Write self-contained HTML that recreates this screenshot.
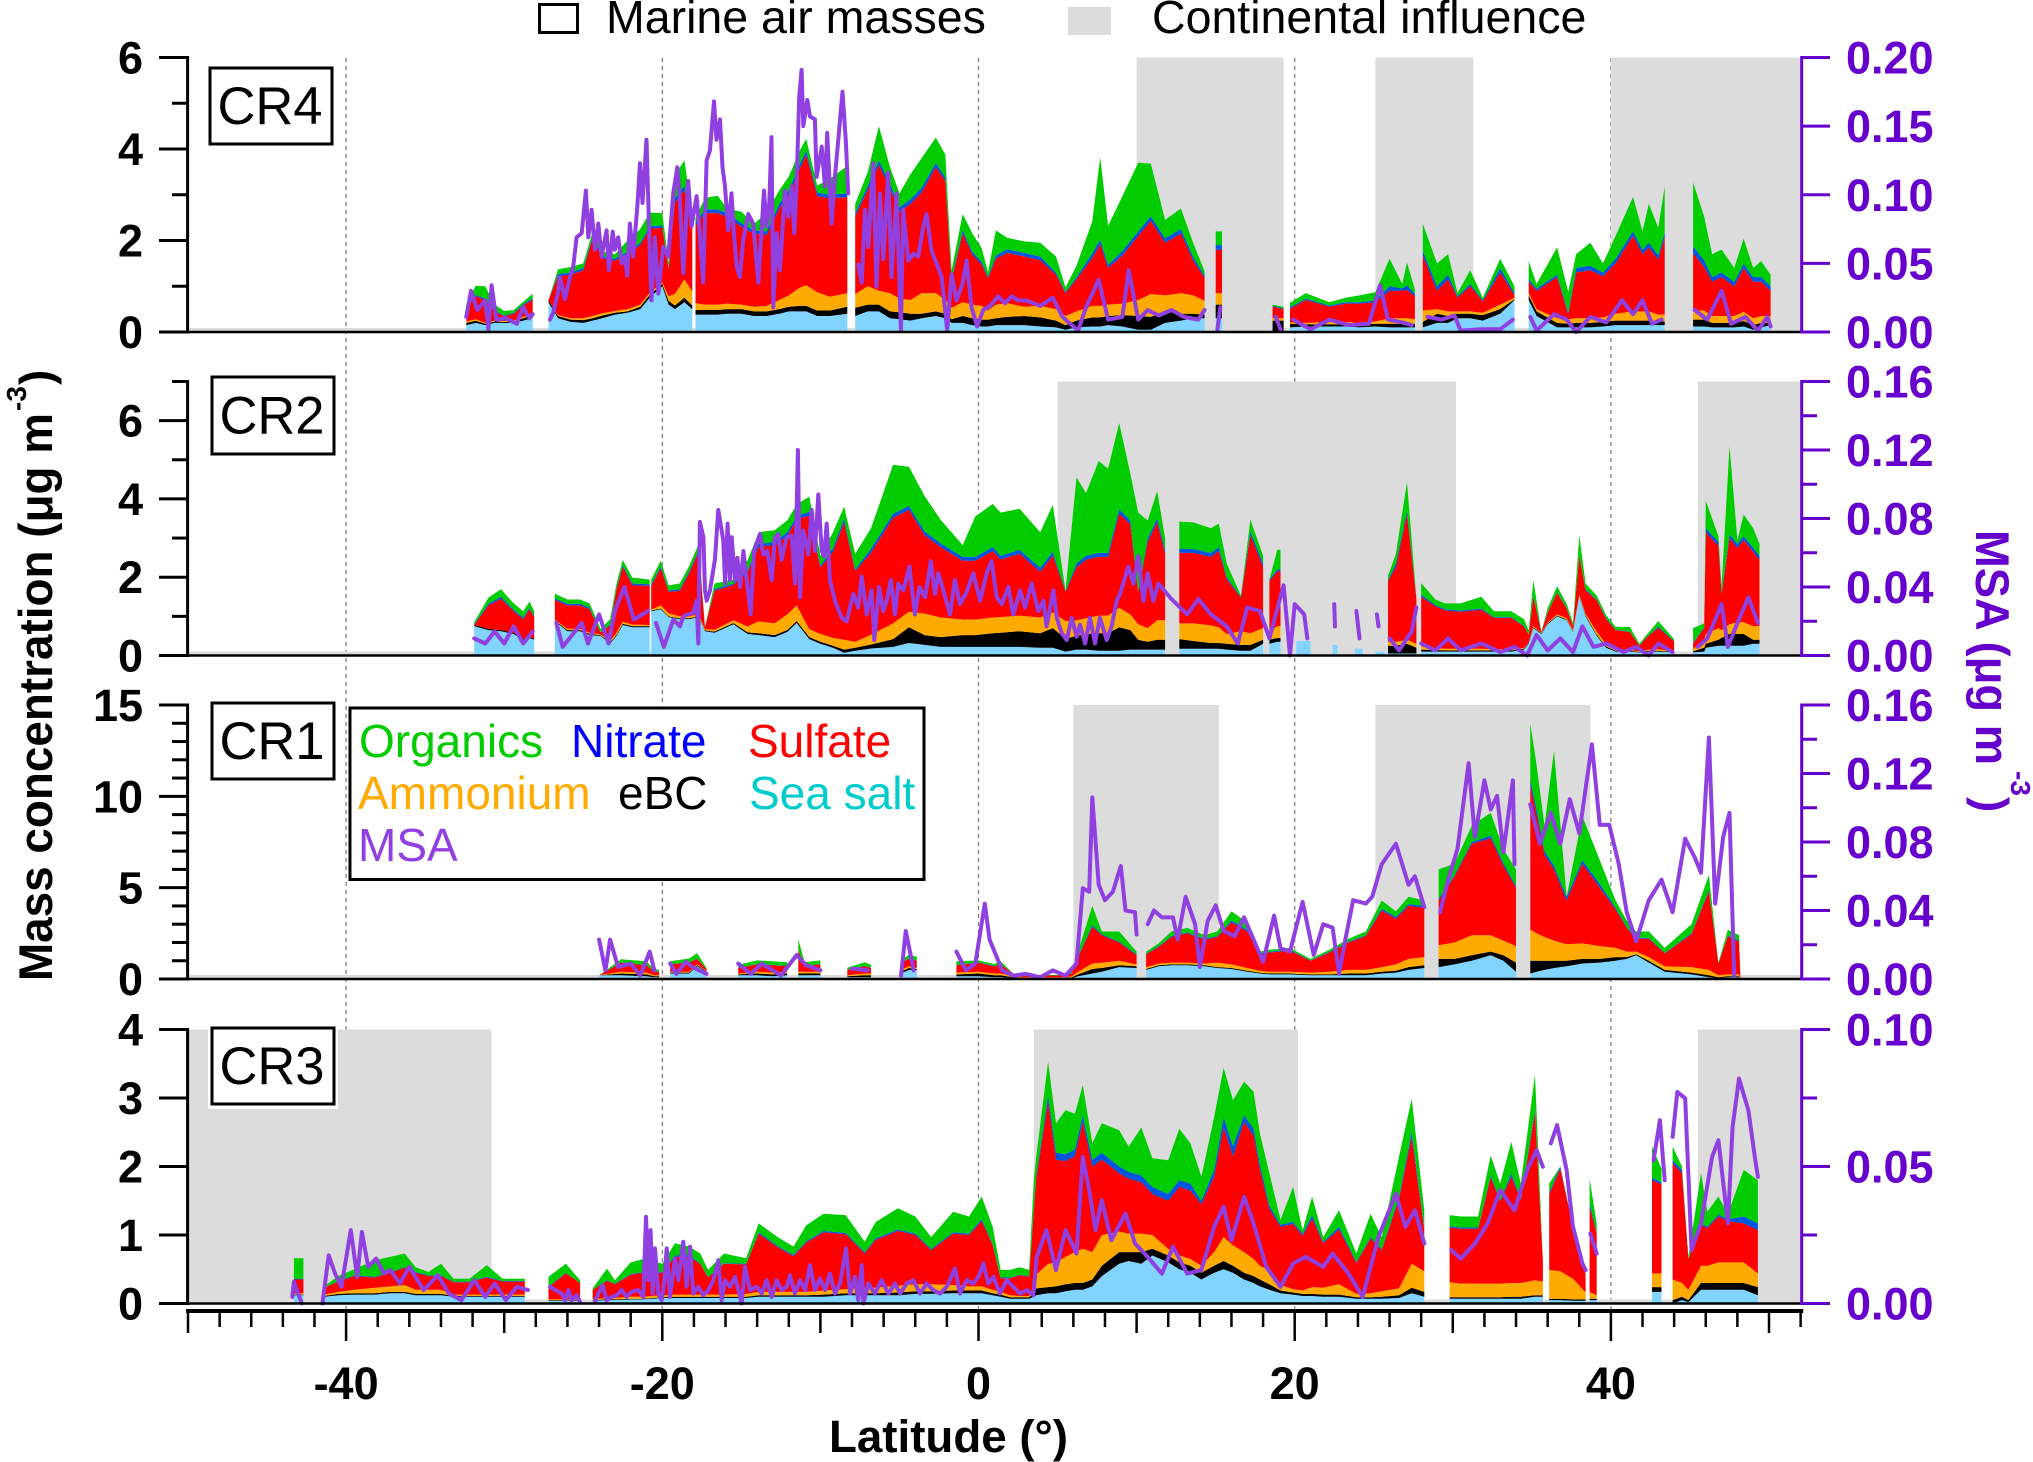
<!DOCTYPE html>
<html lang="en">
<head>
<meta charset="utf-8">
<title>Mass concentration by latitude</title>
<style>
html,body{margin:0;padding:0;background:#fff;width:2033px;height:1462px;overflow:hidden}
svg{display:block;font-family:"Liberation Sans",Arial,sans-serif}
</style>
</head>
<body>
<svg id="chart" width="2033" height="1462" viewBox="0 0 2033 1462" xmlns="http://www.w3.org/2000/svg">
<rect width="2033" height="1462" fill="#fff"/>
<g id="layer"></g>
<g>
<rect x="539.5" y="4.5" width="38" height="28" fill="#fff" stroke="#000" stroke-width="3"/>
<text x="606" y="33" font-size="46.500">Marine air masses</text>
<rect x="1068" y="7" width="43" height="28" fill="#dcdcdc"/>
<text x="1152" y="33" font-size="46.500">Continental influence</text>
</g>
<g font-size="46">
<rect x="350" y="708" width="574" height="171.500" fill="#fff" stroke="#000" stroke-width="3"/>
<text x="359" y="757" fill="#00cc00">Organics</text>
<text x="571" y="757" fill="#0000ff">Nitrate</text>
<text x="748" y="757" fill="#ff0000">Sulfate</text>
<text x="358" y="809" fill="#ffaa00">Ammonium</text>
<text x="618" y="809" fill="#000000">eBC</text>
<text x="749" y="809" fill="#00cccc">Sea salt</text>
<text x="358" y="861" fill="#9040e0">MSA</text>
</g>
<g font-weight="bold">
<text transform="translate(52,981) rotate(-90)" font-size="47" textLength="568" lengthAdjust="spacingAndGlyphs">Mass concentration (μg m</text>
<text transform="translate(26,411) rotate(-90)" font-size="28">-3</text>
<text transform="translate(52,385) rotate(-90)" font-size="46">)</text>
<text transform="translate(1976,530) rotate(90)" font-size="47" fill="#6600cc" textLength="235" lengthAdjust="spacingAndGlyphs">MSA (μg m</text>
<text transform="translate(2011,771) rotate(90)" font-size="28" fill="#6600cc">-3</text>
<text transform="translate(1976,797) rotate(90)" font-size="46" fill="#6600cc">)</text>
<text x="948.500" y="1452" text-anchor="middle" font-size="45.700">Latitude (°)</text>
</g>
</svg>
<script>
/* ---------- x axis values ---------- */
var xMajorTicks = [-40,-20,0,20,40];
var xMidTicks = [-50,-30,-10,10,30,50];
var xMinorTicks = [-48,-46,-44,-42,-38,-36,-34,-32,-28,-26,-24,-22,-18,-16,-14,-12,-8,-6,-4,-2,2,4,6,8,12,14,16,18,22,24,26,28,32,34,36,38,42,44,46,48,52];

/* ---------- CR4 ---------- */
var cr4Continental = [[10,19.3],[25.1,31.3],[40,52]];
var cr4Lat = [-32.4,-31.8,-31.2,-30.6,-30,-29.4,-28.8,-28.2,null,
-27.2,-26.6,-25.8,-25,-24.4,-23.8,-23,-22.2,-21.4,-20.8,-20,-19.6,-19.2,-18.6,-18.1,null,
-17.9,-17.3,-16.5,-15.9,-15,-14.2,-13.4,-12.6,-12,-11.3,-10.9,-10.2,-9.4,-8.3,null,
-7.8,-7,-6.3,-5.6,-5,-4.3,-3.6,-2.7,-2.1,-1.7,-1,-.4,.2,.6,1.1,1.8,2.9,3.9,4.9,5.5,6.2,7.2,7.7,8.2,9.1,10.1,10.9,11.8,12.8,13.6,14.3,null,
15,15.4,null,
18.6,19.3,null,
19.7,20.7,22.2,23.2,24.1,25.1,26,26.8,27.1,27.6,null,
28.1,29,29.7,30.3,31.1,31.9,33,33.9,null,
34.8,35.3,36.6,37.3,37.8,38.7,39.5,40.3,41.4,42,42.4,43,43.4,null,
45.2,45.9,46.4,47,47.8,48.4,49,49.5,50.1];
var cr4SeaSalt = [.15,.2,.15,.2,.2,.2,.25,.3,null,
.65,.3,.22,.2,.25,.3,.38,.42,.5,.75,1,.6,.5,.65,.5,null,
.38,.38,.38,.4,.4,.35,.35,.4,.45,.45,.45,.35,.35,.4,null,
.35,.45,.45,.3,.28,.25,.3,.35,.3,.2,.2,.15,.12,.12,.15,.15,.15,.12,.1,.05,.1,.12,.12,.15,.12,.05,.05,.2,.25,.3,.3,null,
.3,.3,null,
0,0,null,
.1,.12,.12,.12,.1,.12,.1,.1,.1,.1,null,
.1,.2,.2,.3,.3,.25,.4,.7,null,
.7,.35,.1,.1,.1,.1,.12,.15,.15,.15,.15,.15,.15,null,
.12,.12,.1,.1,.1,.12,.05,.1,.15];
var cr4Ebc = [.05,.05,.03,.03,.02,.03,.05,.08,null,
.05,.05,.05,.06,.05,.06,.04,.03,.05,.06,.05,.08,.08,.1,.08,null,
.1,.1,.1,.1,.1,.1,.1,.1,.1,.12,.12,.12,.12,.15,null,
.18,.15,.15,.15,.15,.15,.1,.1,.1,.08,.15,.15,.15,.15,.15,.18,.2,.2,.15,.1,.15,.2,.2,.2,.25,.3,.28,.25,.15,.1,.08,null,
.3,.3,null,
.25,.25,null,
.08,.05,.05,.05,.05,.06,.08,.08,.08,.08,null,
.12,.2,.15,.1,.1,.12,.1,.02,null,
.1,.1,.1,.08,.1,.1,.1,.1,.1,.1,.1,.08,.08,null,
.15,.15,.1,.1,.1,.12,.1,.1,.05];
var cr4Ammonium = [.03,.03,.02,.02,.02,.02,.03,.03,null,
0,.02,.03,.04,.05,.05,.04,.05,.05,.05,.03,.1,.25,.4,.3,null,
.15,.12,.12,.12,.1,.1,.12,.2,.25,.4,.45,.4,.3,.3,null,
.3,.4,.3,.4,.3,.3,.45,.4,.3,.25,.3,.3,.3,.2,.3,.3,.2,.25,.25,.2,.2,.25,.25,.25,.25,.35,.5,.35,.45,.4,.3,null,
.25,.25,null,
.05,.05,null,
.03,.03,.05,.05,.05,.05,.12,.12,.12,.1,null,
.25,.1,.1,.05,.05,.05,.1,.03,null,
.05,.05,.1,.1,.1,.1,.1,.15,.2,.2,.2,.15,.15,null,
.2,.2,.15,.15,.15,.2,.15,.15,.15];
var cr4Sulfate = [.3,.5,.5,.2,.1,.15,.25,.3,null,
0,.85,.95,1.05,1.7,1.2,1.1,1.2,1.3,1.4,1.2,.6,2,1.95,1.4,null,
1.7,2,2,1.9,1.7,1.6,1.55,2,2.2,2.6,2.85,2.1,2.15,2.1,null,
1.7,2.1,2.75,2.3,1.9,2.1,2.2,2.75,2.6,.6,1.5,1.1,.9,.7,1,1.1,1.1,1,.75,.5,.7,1.05,1.35,.8,1.05,1.4,1.6,1.15,1.3,.75,.5,null,
.95,.95,null,
.25,.2,null,
.3,.5,.33,.4,.42,.42,.6,.6,.62,.5,null,
1.2,.4,.7,.3,.55,.25,.7,.05,null,
.25,.4,.9,.1,1,1.05,.9,1.1,1.65,1.25,1.4,1.2,1.7,null,
1.25,.95,.75,.85,.65,.95,.8,.75,.55];
var cr4Nitrate = [.02,.03,.03,.02,.02,.02,.03,.03,null,
0,.05,.05,.05,.05,.05,.04,.05,.05,.05,.05,.03,.1,.1,.08,null,
.07,.08,.08,.08,.08,.07,.08,.1,.1,.1,.1,.08,.08,.08,null,
.07,.1,.1,.1,.1,.1,.1,.1,.08,.05,.08,.06,.06,.04,.07,.08,.08,.08,.05,.03,.05,.1,.1,.07,.1,.1,.1,.1,.1,.08,.05,null,
.1,.1,null,
.02,.02,null,
.03,.03,.03,.03,.03,.04,.1,.05,.1,.05,null,
.1,.1,.1,.03,.05,.03,.1,.05,null,
.05,.05,.05,.05,.1,.1,.08,.1,.1,.1,.1,.1,.1,null,
.15,.15,.1,.1,.1,.1,.1,.1,.1];
var cr4Organics = [.05,.2,.27,.13,.1,.06,.05,.1,null,
0,.1,.12,.1,.1,.1,.1,.25,.3,.3,.27,.1,.5,.55,.2,null,
.1,.25,.3,.1,.25,.15,.4,.3,.3,.3,.25,.15,.35,.6,null,
.2,.3,.75,.35,.3,.55,.65,.55,.5,.17,.35,.4,.3,.1,.55,.25,.25,.3,.35,.1,.25,.7,1.8,.85,1.2,1.5,1.15,.4,.45,.3,.1,null,
.3,.3,null,
.03,.03,null,
.1,.12,.07,.1,.15,.18,.6,.1,.5,.1,null,
.6,.5,.45,.07,.3,.05,.2,.15,null,
.4,.1,.6,.45,.3,.5,.2,.5,.75,.4,.85,.6,1,null,
1.4,.95,.5,.5,.3,.55,.2,.35,.25];
var cr4MsaLat = [-32.4,-32.1,-31.7,-31.2,-31,-30.8,-30.5,-29.9,-29.2,-28.8,-28.4,-28.2,null,
-27.11,-26.9,-26.58,-26.47,-26.16,-25.84,-25.63,-25.42,-25.1,-24.83,-24.68,-24.47,-24.26,-24.05,-23.84,-23.52,-23.38,-23.14,-23,-22.79,-22.57,-22.36,-22.22,-22.05,-21.84,-21.58,-21.41,-21.25,-21,-20.78,-20.68,-20.47,-20.25,-19.94,-19.62,-19.31,-19.05,-18.89,-18.67,-18.36,-18.15,-17.83,-17.62,-17.41,-17.2,-16.99,-16.73,-16.57,-16.35,-16.19,-16.04,-15.83,-15.62,-15.47,-15.3,-15.09,-14.88,-14.56,-14.25,-13.93,-13.57,-13.4,-13.23,-13.09,-12.98,-12.77,-12.56,-12.24,-12.03,-11.82,-11.65,-11.51,-11.34,-11.19,-11.08,-10.83,-10.66,-10.35,-10.24,-9.92,-9.71,-9.57,-9.29,-9.08,-8.87,-8.6,-8.38,-8.24,null,
-7.6,-7.39,-7.18,-6.97,-6.66,-6.45,-6.23,-6.02,-5.71,-5.5,-5.18,-4.91,-4.76,-4.44,-4.13,-3.81,-3.49,-3.28,-2.97,-2.65,-2.33,-1.98,-1.7,-1.39,-1.01,-.75,-.44,-.08,.3,.72,1.25,1.67,2.1,2.52,3,3.9,4.7,5.3,6.3,6.8,7.6,8.2,9.1,9.5,10.1,10.7,11.4,12.2,13,13.9,14.3,null,
15.1,15.3,null,
18.8,19.1,null,
19.9,21,22.2,23.4,24.7,25.4,25.9,26.8,27.4,null,
28.4,29.3,30.1,30.5,31.8,33,33.8,null,
34.9,35.3,36.4,37.2,37.8,38.7,39.7,40.7,41.4,42,42.6,43.2,null,
45.3,46.1,47,47.6,48.5,49.3,49.9,50.1];
var cr4Msa = [.011,.03,.016,.023,.002,.034,.009,.01,.006,.018,.01,.013,null,
.009,.014,.03,.04,.024,.04,.048,.069,.072,.103,.069,.089,.06,.079,.055,.074,.045,.073,.06,.069,.05,.055,.041,.079,.055,.091,.123,.094,.14,.052,.023,.069,.028,.062,.055,.101,.12,.096,.043,.11,.077,.099,.07,.036,.125,.132,.168,.14,.155,.12,.107,.074,.101,.072,.048,.04,.067,.086,.079,.036,.103,.077,.094,.142,.018,.072,.045,.103,.084,.106,.072,.106,.171,.191,.15,.169,.157,.155,.113,.135,.106,.145,.079,.113,.14,.175,.137,.101,null,
.049,.036,.089,.062,.123,.033,.101,.053,.116,.04,.101,.001,.089,.052,.057,.055,.077,.086,.059,.05,.04,.001,.042,.023,.035,.052,.018,.004,.016,.019,.026,.021,.026,.023,.023,.019,.025,.011,.001,.018,.038,.009,.011,.045,.009,.016,.012,.016,.011,.009,.016,null,
.001,.018,null,
.011,.002,null,
.009,.002,.009,.005,.006,.034,.009,.007,.005,null,
.011,.009,.012,.001,.002,.002,.009,null,
.011,.001,.013,.009,0,.011,.007,.023,.013,.023,.006,.009,null,
.016,.009,.03,.006,.011,.001,.011,.004];

/* ---------- CR2 ---------- */
var cr2Continental = [[5,30.2],[45.5,52]];
var cr2Lat = [-31.9,-31,-30.2,-29.4,-28.8,-28.4,-28.1,null,
-26.8,-26,-25.2,-24.6,-23.9,-23.3,-22.9,-22.5,-21.9,-20.8,null,
-20.7,-20.1,-19.6,-18.9,-18.3,-17.7,-17.3,-16.7,-15.5,-14.6,-13.9,-12.9,-12.1,-11.5,-10.7,-10,-9.2,-8.5,-7.8,-6.8,-5.4,-4.4,-3.4,-2.4,-1,-.2,.9,1.4,2.6,3.9,4.7,5.5,6.2,6.8,7.6,8.2,8.9,9.6,10.1,10.7,11.3,11.8,null,
12.7,13.6,14.7,15.2,15.7,16.6,17.2,18,null,
18.4,18.9,19.1,null,
20.1,21,null,22.4,22.7,null,23.8,24.3,null,25.1,25.7,null,
25.9,26.4,27.1,27.7,null,
28,28.9,29.5,30.5,31.8,32.6,33.7,34.5,34.8,35.1,35.6,36,36.6,37.2,37.6,38,38.4,39.1,39.7,40.3,41.2,41.8,42.2,43,44,null,
45.2,45.9,46,46.8,47,47.5,48,48.4,49,49.4];
var cr2SeaSalt = [.75,.65,.62,.55,.4,.45,.4,null,
.88,.62,.62,.52,.5,.3,.5,.78,.72,.72,null,
1.13,1.18,.98,.93,.93,.98,.62,.58,.8,.55,.52,.47,.6,.83,.42,.3,.2,.07,.12,.18,.22,.32,.27,.22,.22,.22,.22,.22,.22,.2,.2,.1,.15,.15,.12,.12,.12,.15,.15,.15,.15,.15,null,
.17,.17,.17,.17,.15,.12,.12,.3,null,
.3,.35,.35,null,
.37,.37,null,.27,.27,null,.17,.17,null,.1,.1,null,
.05,.05,.05,.05,null,
.1,.1,.1,.1,.1,.1,.1,.15,.3,.7,.55,.8,1,.9,.6,1.5,1,.5,.2,.1,.1,.08,.1,.1,.08,null,
.08,.1,.2,.25,.25,.25,.25,.25,.3,.3];
var cr2Ebc = [.03,.03,.03,.03,.03,.03,.03,null,
.02,.03,.03,.03,.02,.03,.03,.03,.03,.03,null,
.02,.02,.02,.02,.02,.02,.02,.03,.03,.04,.05,.05,.05,.05,.05,.05,.05,.08,.08,.1,.2,.4,.25,.25,.3,.3,.35,.36,.4,.37,.5,.33,.35,.4,.45,.45,.6,.5,.25,.2,.25,.25,null,
.25,.2,.15,.15,.15,.15,.15,.1,null,
.1,.1,.1,null,
0,0,null,0,0,null,0,0,null,0,0,null,
.2,.2,.25,.15,null,
.05,.04,.03,.03,.03,.03,.03,.02,.02,.02,.02,.02,.02,.02,.02,.02,.03,.03,.03,.02,.02,.01,.02,.02,.01,null,
.03,.1,.1,.15,.2,.3,.3,.3,.1,.1];
var cr2Ammonium = [0,0,0,0,0,0,0,null,
.02,.03,.03,.03,.02,.04,.05,.05,.04,.03,null,
.02,.08,.08,.05,.05,.05,.03,.05,.07,.15,.3,.3,.4,.4,.2,.2,.2,.25,.15,.25,.4,.4,.55,.5,.4,.4,.4,.4,.4,.4,.4,.45,.4,.4,.45,.45,.5,.4,.4,.35,.5,.5,null,
.4,.45,.45,.4,.25,.35,.3,.3,null,
.2,.3,.3,null,
0,0,null,0,0,null,0,0,null,0,0,null,
.1,.1,.1,.1,null,
.08,.05,.04,.04,.04,.03,.03,.02,.01,.03,.01,.02,.03,.03,.03,.03,.03,.08,.05,.03,.03,.01,.02,.04,.02,null,
.05,.2,.25,.3,.2,.25,.3,.3,.35,.35];
var cr2Sulfate = [0,.6,.8,.55,.5,.7,.55,null,
.5,.6,.6,.6,.05,.4,1.1,1.4,1,1,null,
.6,.95,.55,.65,1.1,1.6,.05,1,.9,1.4,1.9,2,2,2.2,2.9,1.7,2.2,3,1.8,2.1,2.7,2.6,2,1.8,1.5,1.5,1.7,1.47,1.58,1.17,1.45,.75,1.35,1.5,1.5,1.5,2.4,2.3,.8,2.2,2.5,1.7,null,
1.8,1.8,1.75,1.95,1.4,.85,2.5,1.55,null,
1.3,1.4,1.4,null,
0,0,null,0,0,null,0,0,null,0,0,null,
1.55,1.9,3.2,1.15,null,
1.27,1.07,.98,.95,1,.8,.8,.55,.2,.75,.02,.25,.55,.25,.1,1,.6,.8,.65,.5,.45,.15,.3,.55,.25,null,
.15,.3,2.6,2.1,.9,2.2,1.9,2.1,1.9,1.7];
var cr2Nitrate = [.02,.04,.05,.04,.04,.04,.03,null,
.04,.04,.04,.04,.01,.03,.04,.05,.05,.04,null,
.04,.05,.03,.04,.05,.05,.01,.04,.04,.05,.08,.08,.1,.08,.1,.05,.1,.1,.05,.1,.1,.1,.1,.1,.1,.1,.1,.1,.1,.1,.1,.02,.1,.1,.1,.1,.12,.1,.05,.1,.1,.1,null,
.1,.1,.1,.1,.05,.03,.1,.1,null,
.04,.05,.05,null,
0,0,null,0,0,null,0,0,null,0,0,null,
.03,.1,.1,.02,null,
.05,.03,.03,.03,.03,.02,.02,.02,.01,.03,0,.02,.02,.02,0,.02,.03,.02,.02,.01,.01,.01,.01,.03,.01,null,
.02,.02,.1,.1,.05,.1,.1,.1,.1,.1];
var cr2Organics = [.05,.16,.19,.16,.16,.16,.12,null,
.12,.11,.11,.11,.08,.13,.12,.13,.15,.12,null,
.13,.14,.13,.15,.14,.15,0,.14,.1,.25,.3,.3,.3,.3,.39,.25,.4,.3,.4,.52,1.25,1,.9,.6,.3,1.03,1.1,1.1,1.05,.91,1.2,0,2.2,1.6,2.35,2.15,2.2,1.2,2,.45,.7,.3,null,
.7,.68,.63,.6,.35,.03,.3,.2,null,
0,.5,.5,null,
0,0,null,0,0,null,0,0,null,0,0,null,
.1,.25,.73,0,null,
.3,.14,.15,.18,.3,.15,.15,.17,.1,.4,0,.1,.15,.1,.08,.5,.15,.1,.08,.07,.12,.04,.05,.14,.05,null,
.37,.1,.7,.15,.15,2.25,.1,.55,.5,.3];
var cr2MsaLat = [-31.9,-31.2,-30.6,-30,-29.4,-28.8,-28.2,null,
-26.7,-26.3,-25.7,-25.1,-24.7,-24,-23.4,-23,-22.4,-21.8,-20.9,null,
-20.4,-19.9,-19.3,-18.88,-18.67,-18.35,-18.04,-17.83,-17.72,-17.62,-17.4,-17.3,-17.19,-16.98,-16.67,-16.46,-16.24,-16.14,-16.03,-15.87,-15.72,-15.61,-15.4,-15.25,-15.08,-14.87,-14.66,-14.41,-14.2,-13.82,-13.61,-13.36,-13.08,-12.87,-12.66,-12.45,-12.13,-11.82,-11.6,-11.42,-11.29,-11.08,-10.76,-10.55,-10.34,-10.13,-9.92,-9.77,-9.6,-9.39,-9.08,-8.65,-8.34,-7.92,-7.6,-7.39,-7.07,-6.76,-6.59,-6.29,-6.02,-5.81,-5.55,-5.28,-5.07,-4.75,-4.37,-4.02,-3.74,-3.38,-3.02,-2.75,-2.54,-2.22,-1.8,-1.49,-1.17,-.75,-.33,.1,.52,.83,1.15,1.47,1.89,2.2,2.63,2.94,3.36,3.78,4.1,4.31,4.73,4.95,5.26,5.58,5.89,6.21,6.42,6.74,7.05,7.37,7.68,8.11,8.42,8.74,8.95,9.48,9.79,10.11,10.43,10.7,11.06,11.37,12.2,13.2,13.9,14.7,15.7,16.4,17,17.8,18.4,19.3,19.7,20,20.6,20.8,null,
22.5,22.55,null,
23.9,24.1,null,
25.2,25.3,null,
26,26.6,27.4,27.7,null,
28,28.9,29.7,30.5,31.8,33,33.9,34.7,35.3,36,36.8,37.6,38.2,38.9,39.7,40.8,41.6,42.4,43,43.9,null,
45.5,46.1,47,47.4,48,48.7,49.3];
var cr2Msa = [.01,.007,.014,.007,.017,.007,.014,null,
.019,.005,.012,.019,.007,.024,.007,.026,.04,.021,.026,null,
.019,.005,.021,.017,.023,.024,.025,.032,.007,.078,.069,.038,.032,.038,.056,.085,.073,.067,.042,.077,.044,.069,.044,.057,.04,.061,.044,.024,.061,.071,.059,.061,.044,.069,.071,.056,.069,.07,.042,.12,.034,.073,.059,.085,.061,.094,.061,.058,.077,.044,.032,.022,.02,.036,.028,.046,.024,.038,.009,.04,.026,.032,.044,.024,.042,.038,.052,.024,.04,.034,.055,.036,.048,.038,.024,.044,.03,.037,.048,.032,.048,.055,.034,.03,.04,.024,.038,.028,.042,.026,.032,.017,.038,.022,.013,.009,.022,.011,.018,.007,.022,.007,.022,.009,.017,.032,.036,.052,.042,.058,.032,.048,.032,.042,.033,.024,.033,.024,.017,.007,.028,.026,.01,.041,0,.03,.024,.01,null,
.03,.017,null,
.026,.01,null,
.024,.017,null,
.01,.003,.014,.028,null,
.007,.003,.01,.003,.007,.002,.005,0,.012,.003,.01,.002,.017,.005,.007,.002,.005,0,.007,.002,null,
.005,.01,.03,.005,.019,.034,.019];

/* ---------- CR1 ---------- */
var cr1Continental = [[6,15.2],[25.1,38.7]];
var cr1Lat = [-24,-22.6,-21,-20.5,-20.2,null,
-19.5,-18.3,-17.8,-17.2,null,
-15.2,-14,-13,-12.1,null,
-11.4,-11,-10,null,
-8.3,-7.2,-6.8,null,
-4.9,-4.4,-3.9,null,
-1.4,0,1,1.4,2.2,3,4,5.5,5.9,6.3,7.2,7.8,8.9,10,null,
10.6,11.4,12.2,13.2,14.3,15.1,16,17,17.8,18.4,19.7,21,22.2,23.4,24.5,25.5,26.4,27.2,28.2,null,
29.1,30.1,31.2,32.4,33.2,34,null,
34.9,35.3,35.8,36.4,37.2,38.2,39.3,40.3,41,41.6,42.4,43.4,45.1,46.2,46.8,47.4,48.1,48.2];
var cr1SeaSalt = [.2,.2,.15,.1,.1,null,
.3,.3,.7,.4,null,
.2,.2,.15,.2,null,
.2,.2,.2,null,
.1,.1,.1,null,
.3,.5,.5,null,
.15,.15,.1,.1,.05,.03,.03,.03,.05,.15,.3,.4,.65,.6,null,
.5,.7,.75,.75,.7,.6,.55,.4,.3,.25,.25,.2,.2,.2,.2,.3,.35,.5,.6,null,
.65,.8,1,1.3,1,.4,null,
.3,.4,.5,.6,.7,.85,.9,1,1.1,1.3,.9,.4,.25,.1,.05,.1,.1,0];
var cr1Ebc = [0,.1,.1,.05,.05,null,
.05,.05,.05,.02,null,
.05,.1,.1,.1,null,
.1,.1,.1,null,
.05,.1,.1,null,
.1,.1,.05,null,
.1,.15,.1,.1,.05,.03,.03,.03,.05,.1,.25,.2,.1,.1,null,
.05,.05,.05,.05,.05,.05,.05,.05,.05,.05,.05,.05,.05,.1,.1,.1,.1,.15,.15,null,
.45,.3,.3,.2,.3,.5,null,
.7,.6,.5,.4,.3,.25,.2,.2,.1,.05,.1,.1,.1,.1,.05,.05,.05,0];
var cr1Ammonium = [0,.1,.1,.05,.05,null,
.05,.05,.05,.02,null,
.05,.1,.1,.1,null,
.1,.1,.1,null,
.05,.1,.1,null,
.1,.1,.05,null,
.1,.1,.1,.1,.05,.03,.03,.03,.05,.15,.3,.3,.25,.1,null,
.1,.1,.1,.1,.1,.25,.2,.15,.1,.1,.1,.1,.15,.2,.2,.25,.35,.45,.45,null,
.75,.9,1.1,.9,.8,.9,null,
1.7,1.5,1.3,1.1,.9,.85,.7,.5,.3,.15,.2,.2,.3,.3,.1,.1,.1,0];
var cr1Sulfate = [0,.5,.4,.2,.2,null,
.4,.5,.3,.1,null,
.3,.4,.4,.3,null,
1.2,.3,.4,null,
.3,.4,.3,null,
.4,.4,.4,null,
.4,.5,.4,.5,.15,.1,.1,.1,.15,.8,2,1.5,1,.5,null,
.7,.9,1.4,1.6,1.3,1.4,2.3,2,.9,1.05,1.15,.65,1.05,1.5,1.85,3.1,2.5,2.9,2.7,null,
2.45,3.6,5,5.3,4.1,3.2,null,
7.9,6.5,4.5,3.9,2.4,4.35,3.2,2.1,1.3,.7,1,.7,1.8,4.3,.65,2.1,1.8,0];
var cr1Nitrate = [0,.02,.02,.01,.02,null,
.02,.02,.02,0,null,
.02,.02,.02,.02,null,
.03,.02,.02,null,
.02,.02,.02,null,
.02,.02,.02,null,
.02,.02,.02,.02,0,0,0,0,0,.05,.1,.05,.05,.05,null,
.03,.05,.05,.05,.05,.05,.1,.1,.05,.05,.05,.02,.05,.05,.05,.1,.1,.1,.1,null,
.1,.1,.1,.15,.15,.1,null,
.3,.3,.2,.2,.2,.2,.2,.1,.05,.05,.05,.03,.05,.1,0,.05,.05,0];
var cr1Organics = [0,.16,.2,.1,.1,null,
.15,.2,.3,.05,null,
.15,.2,.2,.2,null,
.55,.2,.2,null,
.1,.2,.15,null,
.1,.2,.2,null,
.2,.1,.1,.15,0,.03,.03,.03,.1,.25,1.05,.15,.55,.15,null,
.12,.15,.25,.25,.2,.25,.5,.4,.1,.1,.1,.08,.1,.15,.2,.45,.3,.4,.3,null,
1.6,.6,.9,1.25,.75,.9,null,
3.1,2.4,1.4,6.3,0,2.4,1.3,.4,.35,.35,.35,.27,.5,.8,.05,.3,.3,0];
var cr1MsaLat = [-24,-23.6,-23.3,-22.8,-22,-21.4,-20.8,-20.5,null,
-19.5,-19.1,-18.5,-18.1,-17.2,null,
-15.2,-14.4,-13.7,-12.5,-11.5,-10.9,-10,null,
-8,-7,null,
-4.9,-4.6,-4.1,null,
-1.4,-.8,-.2,.4,.7,1.5,2.2,3,3.9,4.7,5.5,6.2,6.6,7,7.2,7.6,8,8.5,9,9.3,9.9,10,null,
10.7,11.1,11.6,12.3,12.6,13.1,13.7,14,14.5,15,15.5,16.2,16.8,17.4,18,18.7,19.1,19.7,20.5,21.2,21.8,22.4,22.8,23.2,23.7,24.5,24.9,25.5,26.4,27.2,27.6,28.2,null,
29.2,29.7,30.3,31,31.4,32,32.4,32.8,33.2,33.8,33.9,null,
34.9,35.5,36.2,36.8,37.4,38,38.8,39.3,39.9,40.5,41,41.6,42.4,43.2,43.9,44.7,45.3,45.7,46.2,46.6,47.1,47.5,47.8];
var cr1Msa = [.023,.005,.023,.007,.009,.002,.016,.005,null,
.009,.003,.01,.007,.003,null,
.009,.003,.009,.002,.014,.008,.005,null,
.006,.005,null,
.002,.028,.005,null,
.016,.005,.009,.044,.023,.005,.002,.003,.001,.005,.002,.009,.053,.051,.106,.055,.046,.051,.066,.04,.039,.026,null,
.032,.04,.036,.036,.023,.048,.032,.007,.034,.043,.028,.025,.036,.023,.01,.037,.018,.016,.045,.014,.032,.03,.003,.023,.046,.044,.048,.067,.079,.055,.06,.042,null,
.039,.058,.076,.126,.083,.116,.099,.107,.074,.116,.067,null,
.102,.079,.097,.079,.105,.085,.137,.09,.09,.067,.039,.022,.046,.058,.039,.082,.071,.062,.141,.044,.083,.097,.002];

/* ---------- CR3 ---------- */
var cr3Continental = [[-50,-30.8],[3.5,20.2],[45.5,52]];
var cr3Lat = [-43.3,-42.7,null,
-41.4,-40.5,-39.5,-38.2,-37.2,-36.3,-35.6,-34.8,-34,-33.2,-32.2,-31.1,-30.1,-28.7,null,
-27.2,-26.1,-25.2,null,
-24.4,-23.5,-23,-22,-21.2,-20,-19.2,-18.3,-17.6,-17.1,-16.1,-14.7,-13.9,-12.7,-11.7,-10.9,-9.8,-8.4,-7.2,-6.5,-5.1,-4,-3,-1.6,-.6,.2,.9,1.4,2,2.6,3.2,
3.5,3.65,4.4,4.9,5.5,6.1,6.6,7.2,7.8,8.9,9.5,10.3,11,12,12.7,13.4,14.1,14.9,15.5,16.1,16.8,17.4,17.8,18.4,19.1,19.9,20.5,21.1,21.8,22.8,23.9,24.8,25.5,26.6,27.4,28.2,null,
29.8,30.5,31.6,32.4,33,33.7,34.3,35.2,35.7,null,
36.1,36.8,37.6,38.4,null,
38.65,39.1,null,
42.6,43.2,null,
43.9,44.5,44.9,45.7,46.1,46.8,47.4,48.4,49.3];
var cr3SeaSalt = [.12,.12,null,
.1,.12,.13,.13,.15,.15,.12,.12,.12,.1,.1,.1,.1,.1,null,
.04,.04,.04,null,
.04,.05,.05,.06,.06,.08,.08,.08,.08,.08,.08,.08,.1,.1,.1,.1,.1,.12,.12,.12,.12,.14,.14,.15,.15,.15,.12,.1,.07,.07,.07,
.1,.12,.15,.15,.18,.2,.2,.25,.4,.58,.62,.58,.7,.6,.5,.45,.35,.45,.5,.45,.35,.3,.25,.2,.15,.13,.11,.11,.1,.1,.07,.07,.07,.08,.15,.1,null,
.07,.07,.07,.07,.07,.07,.07,.1,.1,null,
.05,.05,.04,.04,null,
.05,.05,null,
.17,.17,null,
0,.05,.02,.2,.2,.2,.2,.2,.12];
var cr3Ebc = [.01,.01,null,
.01,.02,.02,.02,.02,.02,.02,.02,.02,.01,.01,.01,.01,.01,null,
.01,.01,.01,null,
.01,.01,.01,.01,.01,.01,.02,.02,.02,.02,.02,.02,.02,.02,.02,.02,.03,.03,.03,.03,.04,.04,.04,.04,.04,.04,.03,.03,.02,.02,.02,
.05,.1,.09,.1,.1,.1,.1,.1,.15,.17,.13,.17,.1,.1,.1,.1,.1,.1,.12,.1,.1,.1,.1,.08,.04,.03,.03,.03,.03,.03,.02,.02,.03,.04,.08,.07,null,
.02,.02,.02,.02,.02,.03,.03,.02,.02,null,
.02,.02,.02,.02,null,
.02,.02,null,
.07,.07,null,
.05,.05,.03,.1,.1,.1,.1,.1,.12];
var cr3Ammonium = [.02,.02,null,
.02,.03,.05,.08,.08,.1,.06,.06,.06,.02,.02,.02,.02,.02,null,
.01,.01,.01,null,
.01,.02,.02,.03,.03,.03,.03,.03,.03,.03,.03,.04,.05,.05,.05,.05,.06,.06,.08,.08,.1,.1,.1,.08,.06,.06,.05,.04,.03,.02,.02,
.1,.2,.34,.35,.4,.45,.5,.4,.45,.3,.27,.27,.2,.1,.1,.1,.1,.2,.35,.3,.3,.25,.2,.2,.08,.05,.05,.1,.1,.15,.05,.06,.08,.1,.35,.3,null,
.22,.2,.2,.2,.2,.2,.2,.22,.2,null,
.42,.4,.3,.1,null,
.1,.05,null,
.2,.2,null,
.3,.2,.15,.25,.25,.3,.3,.3,.2];
var cr3Sulfate = [.2,.2,null,
.1,.15,.2,.15,.2,.25,.25,.2,.2,.18,.18,.25,.19,.19,null,
.18,.38,.24,null,
.14,.25,.2,.32,.35,.33,.55,.55,.45,.25,.45,.43,.85,.65,.52,.72,.85,.8,.5,.7,.8,.72,.5,.75,.75,.95,.65,.2,.25,.3,.28,
1.1,1.4,2.36,1.5,1.4,1.4,1.85,1.25,1.1,.85,.8,.75,.6,.7,1,1,.9,1.1,1.6,1.3,1.9,1.8,1.4,.9,.85,.95,.8,1,.65,.8,.45,.8,.6,1.3,1.85,.6,null,
.8,.8,.8,1.55,1.2,1.55,1.2,2.45,.3,null,
1.1,1.5,.75,.27,null,
1.24,.9,null,
1.36,1.3,null,
1.7,1.6,.45,.6,.55,.67,.6,.57,.63];
var cr3Nitrate = [.01,.01,null,
0,.01,.01,.01,.01,.01,.01,.01,.01,.01,.01,.01,.01,.01,null,
.01,.01,0,null,
0,.01,.01,.01,.01,.01,.02,.02,.01,.01,.01,.01,.02,.02,.02,.02,.02,.02,.02,.02,.02,.02,.02,.02,.02,.03,.02,.01,.01,.01,.01,
.05,.05,.1,.1,.1,.1,.1,.1,.1,.1,.1,.1,.1,.1,.1,.1,.05,.1,.15,.15,.1,.1,.08,.05,.03,.03,.03,.05,.02,.04,.02,.02,.02,.04,.08,.04,null,
.02,.02,.02,.03,.02,.05,.03,.05,0,null,
.03,.03,.01,.01,null,
.06,.02,null,
.04,.03,null,
.04,.05,.01,.02,.02,.03,.03,.1,.1];
var cr3Organics = [.3,.3,null,
.02,.07,.09,.24,.22,.2,.07,.05,.17,.04,.04,.17,.03,.03,null,
.14,.13,.04,null,
.02,.17,.05,.17,.19,.12,.18,.13,.14,.1,.14,.08,.13,.13,.12,.23,.25,.26,.15,.24,.31,.25,.17,.3,.25,.33,.25,.11,.11,.11,.09,
.4,.27,.49,.43,.64,.52,.44,.24,.43,.53,.37,.7,.42,.49,.75,.59,.35,.77,.72,.67,.49,.54,.45,.47,.07,.51,.05,.27,.07,.24,.12,.34,.17,.58,.48,.25,null,
.16,.16,.16,.29,.24,.46,.22,.5,0,null,
.13,0,0,0,null,
.35,.13,null,
.45,.2,null,
.2,.05,.02,.73,.22,.26,.08,.68,.63];
var cr3MsaLat = [-43.4,-43.3,-42.8,null,
-41.5,-41.1,-40.7,-40.3,-39.7,-39.3,-39,-38.6,-38.1,-37.6,-37.2,-36.6,-36,-35.1,-34.2,-33.5,-32.7,-31.9,-31.2,-30.6,-29.9,-29.2,-28.5,null,
-27.1,-26.36,-26.15,-25.94,-25.73,-25.42,-25.2,null,
-24.26,-24.05,-23.77,-23.52,-23.2,-22.89,-22.57,-22.25,-21.94,-21.52,-21.2,-21.03,-20.88,-20.74,-20.61,-20.46,-20.25,-20.04,-19.87,-19.72,-19.51,-19.2,-18.98,-18.67,-18.46,-18.25,-18.04,-17.72,-17.4,-17.09,-16.77,-16.46,-16.24,-16.03,-15.72,-15.4,-14.98,-14.77,-14.45,-14.03,-13.71,-13.4,-13.08,-12.77,-12.45,-12.13,-11.92,-11.61,-11.29,-10.97,-10.66,-10.34,-10.03,-9.71,-9.39,-9.08,-8.76,-8.38,-8.13,-7.81,-7.6,-7.39,-7.28,-6.97,-6.55,-6.12,-5.7,-5.28,-4.96,-4.54,-4.12,-3.7,-3.28,-2.86,-2.43,-2.01,-1.49,-1.17,-.75,-.33,-.01,.31,.62,.94,1.36,1.78,2.2,2.63,3.05,3.47,3.68,4.3,4.9,5.5,6.2,6.6,7,7.4,7.8,8.4,9.3,9.9,10.7,11.6,12.3,13.2,14.1,14.9,15.5,16,16.8,17.4,18.2,19.1,19.9,20.7,21.8,22.4,23.4,24.3,25.3,26.4,27,27.6,28.2,null,
29.9,30.5,31.4,32.2,33,33.9,34.7,35.3,35.7,null,
36.2,36.6,37.2,37.6,38.2,38.4,null,
38.7,39.1,null,
42.7,43.1,43.4,null,
43.9,44.2,44.7,45.1,45.7,46.4,46.8,47.4,47.7,48.1,48.7,49.1,49.3];
var cr3Msa = [.0024,.0079,0,null,
0,.0176,.011,.0061,.0268,.0097,.0261,.0134,.0164,.0109,.0122,.0073,.0134,.0049,.0103,.0036,.0012,.0085,.0024,.0073,.0012,.0061,.0049,null,
.0061,.0036,.0012,.0049,.0012,.003,.0006,null,
.0006,.0036,.0067,.0012,.0024,.003,.0049,.0024,.0043,.0049,.0024,.0316,.0085,.0268,.0036,.0201,.0036,.0012,.0085,.0201,.0024,.0164,.0085,.0225,.0061,.0207,.0036,.0061,.003,.0049,.0085,.0158,.0012,.0085,.0061,.0097,0,.0134,.0049,.0061,.0036,.0085,.0024,.0085,.0049,.0061,.0103,.0036,.0085,.0049,.014,.0049,.0091,.0049,.0109,.0036,.0073,.0201,.0036,.0097,.0012,.014,0,.0073,.0036,.0085,.0036,.0073,.0036,.0073,.0085,.0036,.0073,.0049,.0036,.0061,.0128,.0036,.0085,.0073,.0097,.0146,.0073,.0097,.0036,.0085,.0061,.0036,.0049,.003,.017,.0268,.0122,.0268,.0182,.0535,.0414,.0268,.0377,.0231,.0328,.0219,.017,.0109,.0207,.0109,.0122,.028,.0353,.0231,.0389,.0292,.0134,.0061,.0146,.017,.0134,.0182,.0109,.0024,.0243,.0401,.028,.034,.0219,null,
.0195,.0164,.0219,.0292,.0414,.034,.0487,.056,.0499,null,
.0584,.0651,.0487,.028,.0146,.0122,null,
.0255,.0182,null,
.0523,.0669,.045,null,
.0608,.0772,.0749,.0195,.0292,.0535,.0596,.0292,.0645,.0821,.0705,.0535,.0462];

/* ---------- axis labels ---------- */
var cr4LeftTicks = [0,2,4,6];
var cr4LeftMinor = [1,3,5];
var cr4RightTicks = ['0.00','0.05','0.10','0.15','0.20'];
var cr4RightMinor = [];
var cr2LeftTicks = [0,2,4,6];
var cr2LeftMinor = [1,3,5,7];
var cr2RightTicks = ['0.00','0.04','0.08','0.12','0.16'];
var cr2RightMinor = [.02,.06,.1,.14];
var cr1LeftTicks = [0,5,10,15];
var cr1LeftMinor = [1,2,3,4,6,7,8,9,11,12,13,14];
var cr1RightTicks = ['0.00','0.04','0.08','0.12','0.16'];
var cr1RightMinor = [.02,.06,.1,.14];
var cr3LeftTicks = [0,1,2,3,4];
var cr3LeftMinor = [];
var cr3RightTicks = ['0.00','0.05','0.10'];
var cr3RightMinor = [.025,.075];

/* ---------- drawing ---------- */
var NS = 'http://www.w3.org/2000/svg';
var layer = document.getElementById('layer');
var X0 = 978.5, XS = 15.81, XL = 187.6, XR = 1801.7;
var PURPLE = '#6600cc', MSA = '#9040e0', GREY = '#dcdcdc';
function xs(lat){ return X0 + lat * XS; }
function mk(parent, tag, attrs, text){
  var e = document.createElementNS(NS, tag);
  for (var k in attrs) e.setAttribute(k, attrs[k]);
  if (text !== undefined) e.textContent = text;
  parent.appendChild(e);
  return e;
}
var gridG = mk(layer, 'g', {});


xMajorTicks.forEach(function(v){
  var l = mk(gridG, 'line', {x1:xs(v), x2:xs(v), y1:58, y2:1310, stroke:'#777', 'stroke-width':1.2, 'stroke-dasharray':'4 4'});
  
  
});

var layerColors = ['#80d4ff','#000000','#ffaa00','#ff0000','#0055dd','#00cc00'];
var layerNames = ['sea-salt','ebc','ammonium','sulfate','nitrate','organics'];

function drawPanel(p){
  var g = mk(layer, 'g', {});
  
  
  var yL = function(v){ return p.bottom - v * (p.bottom - p.top) / p.leftMax; };
  var yR = function(v){ return p.bottom - v * (p.bottom - p.top) / p.rightMax; };
  p.continental.forEach(function(r){
    var s = mk(g, 'rect', {x:xs(r[0]), y:p.top, width:xs(r[1]) - xs(r[0]), height:p.bottom - p.top, fill:GREY});
    
    
  });
  var strip = mk(g, 'rect', {x:XL, y:p.bottom - 4, width:XR - XL, height:4, fill:GREY});
  
  

  var cum = p.lat.map(function(){ return 0; });
  p.series.forEach(function(arr, si){
    var d = '', top = [], bot = [];
    function flush(){
      if (!top.length) return;
      d += 'M' + top.join('L') + 'L' + bot.reverse().join('L') + 'Z';
      top = []; bot = [];
    }
    p.lat.forEach(function(lat, i){
      if (lat === null){ flush(); return; }
      var v = arr[i] || 0;
      var x = xs(lat).toFixed(1);
      bot.push(x + ' ' + yL(cum[i]).toFixed(1));
      cum[i] += v;
      top.push(x + ' ' + yL(cum[i]).toFixed(1));
    });
    flush();
    var a = mk(g, 'path', {d:d, fill:layerColors[si]});
    
    
  });

  var dm = '', start = true;
  p.msaLat.forEach(function(lat, i){
    if (lat === null){ start = true; return; }
    dm += (start ? 'M' : 'L') + xs(lat).toFixed(1) + ' ' + yR(p.msa[i] || 0).toFixed(1);
    start = false;
  });
  var ln = mk(g, 'path', {d:dm, fill:'none', stroke:MSA, 'stroke-width':4, 'stroke-linejoin':'round', 'stroke-linecap':'round'});
  
  

  var base = mk(g, 'line', {x1:XL, x2:XR, y1:p.bottom, y2:p.bottom, stroke:'#000', 'stroke-width':2.5});
  
  
  var la = mk(g, 'line', {x1:XL, x2:XL, y1:p.top - 1.5, y2:p.bottom + 1.5, stroke:'#000', 'stroke-width':3});
  
  
  var ra = mk(g, 'line', {x1:XR, x2:XR, y1:p.top - 1.5, y2:p.bottom + 1.5, stroke:PURPLE, 'stroke-width':3});
  
  

  p.leftTicks.forEach(function(v){
    var t = mk(g, 'line', {x1:159, x2:XL, y1:yL(v), y2:yL(v), stroke:'#000', 'stroke-width':3});
    
    
    var lb = mk(g, 'text', {x:143, y:yL(v) + 16, 'text-anchor':'end', 'font-size':45, 'font-weight':'bold'}, String(v));
    
    
  });
  p.leftMinor.forEach(function(v){
    var t = mk(g, 'line', {x1:172, x2:XL, y1:yL(v), y2:yL(v), stroke:'#000', 'stroke-width':3});
    
    
  });
  p.rightTicks.forEach(function(s){
    var v = parseFloat(s);
    var t = mk(g, 'line', {x1:XR, x2:1830, y1:yR(v), y2:yR(v), stroke:PURPLE, 'stroke-width':3});
    
    
    var lb = mk(g, 'text', {x:1846, y:yR(v) + 16, 'font-size':45, 'font-weight':'bold', fill:PURPLE}, s);
    
    
  });
  p.rightMinor.forEach(function(v){
    var t = mk(g, 'line', {x1:XR, x2:1817, y1:yR(v), y2:yR(v), stroke:PURPLE, 'stroke-width':3});
    
    
  });

  if (p.halo){
    var h = mk(g, 'rect', {x:p.box[0] - 4, y:p.box[1] - 3, width:p.box[2] + 8, height:p.box[3] + 8, fill:'#fff'});
    
    
  }
  var b = mk(g, 'rect', {x:p.box[0], y:p.box[1], width:p.box[2], height:p.box[3], fill:'#fff', stroke:'#000', 'stroke-width':3});
  
  
  var tx = mk(g, 'text', {x:p.box[0] + p.box[2] / 2 - 1, y:p.box[1] + p.box[3] / 2 + 18, 'text-anchor':'middle', 'font-size':52.5}, p.id.toUpperCase());
  
  
}

[
 {id:'cr4', top:57.5, bottom:332, leftMax:6, rightMax:.2, box:[210,68,122,76], continental:cr4Continental, lat:cr4Lat,
  series:[cr4SeaSalt,cr4Ebc,cr4Ammonium,cr4Sulfate,cr4Nitrate,cr4Organics], msaLat:cr4MsaLat, msa:cr4Msa,
  leftTicks:cr4LeftTicks, leftMinor:cr4LeftMinor, rightTicks:cr4RightTicks, rightMinor:cr4RightMinor},
 {id:'cr2', top:381.5, bottom:655.5, leftMax:7, rightMax:.16, box:[212,377,122,77], continental:cr2Continental, lat:cr2Lat,
  series:[cr2SeaSalt,cr2Ebc,cr2Ammonium,cr2Sulfate,cr2Nitrate,cr2Organics], msaLat:cr2MsaLat, msa:cr2Msa,
  leftTicks:cr2LeftTicks, leftMinor:cr2LeftMinor, rightTicks:cr2RightTicks, rightMinor:cr2RightMinor},
 {id:'cr1', top:705, bottom:979, leftMax:15, rightMax:.16, box:[212,703,122,76], continental:cr1Continental, lat:cr1Lat,
  series:[cr1SeaSalt,cr1Ebc,cr1Ammonium,cr1Sulfate,cr1Nitrate,cr1Organics], msaLat:cr1MsaLat, msa:cr1Msa,
  leftTicks:cr1LeftTicks, leftMinor:cr1LeftMinor, rightTicks:cr1RightTicks, rightMinor:cr1RightMinor},
 {id:'cr3', top:1029.5, bottom:1303.5, leftMax:4, rightMax:.1, box:[212,1028,122,76], halo:true, continental:cr3Continental, lat:cr3Lat,
  series:[cr3SeaSalt,cr3Ebc,cr3Ammonium,cr3Sulfate,cr3Nitrate,cr3Organics], msaLat:cr3MsaLat, msa:cr3Msa,
  leftTicks:cr3LeftTicks, leftMinor:cr3LeftMinor, rightTicks:cr3RightTicks, rightMinor:cr3RightMinor}
].forEach(drawPanel);

var xAxisG = mk(layer, 'g', {});


var xAxisLine = mk(xAxisG, 'line', {x1:XL - 1.5, x2:XR + 1.5, y1:1311, y2:1311, stroke:'#000', 'stroke-width':4});


xMinorTicks.forEach(function(v){
  var t = mk(xAxisG, 'line', {x1:xs(v), x2:xs(v), y1:1311, y2:1327, stroke:'#000', 'stroke-width':2.5});
  
  
});
xMidTicks.forEach(function(v){
  var t = mk(xAxisG, 'line', {x1:xs(v), x2:xs(v), y1:1311, y2:1333, stroke:'#000', 'stroke-width':2.5});
  
  
});
xMajorTicks.forEach(function(v){
  var t = mk(xAxisG, 'line', {x1:xs(v), x2:xs(v), y1:1311, y2:1341, stroke:'#000', 'stroke-width':2.5});
  
  
  var lb = mk(xAxisG, 'text', {x:xs(v), y:1399, 'text-anchor':'middle', 'font-size':45, 'font-weight':'bold'}, String(v));
  
  
});
</script>
</body>
</html>
